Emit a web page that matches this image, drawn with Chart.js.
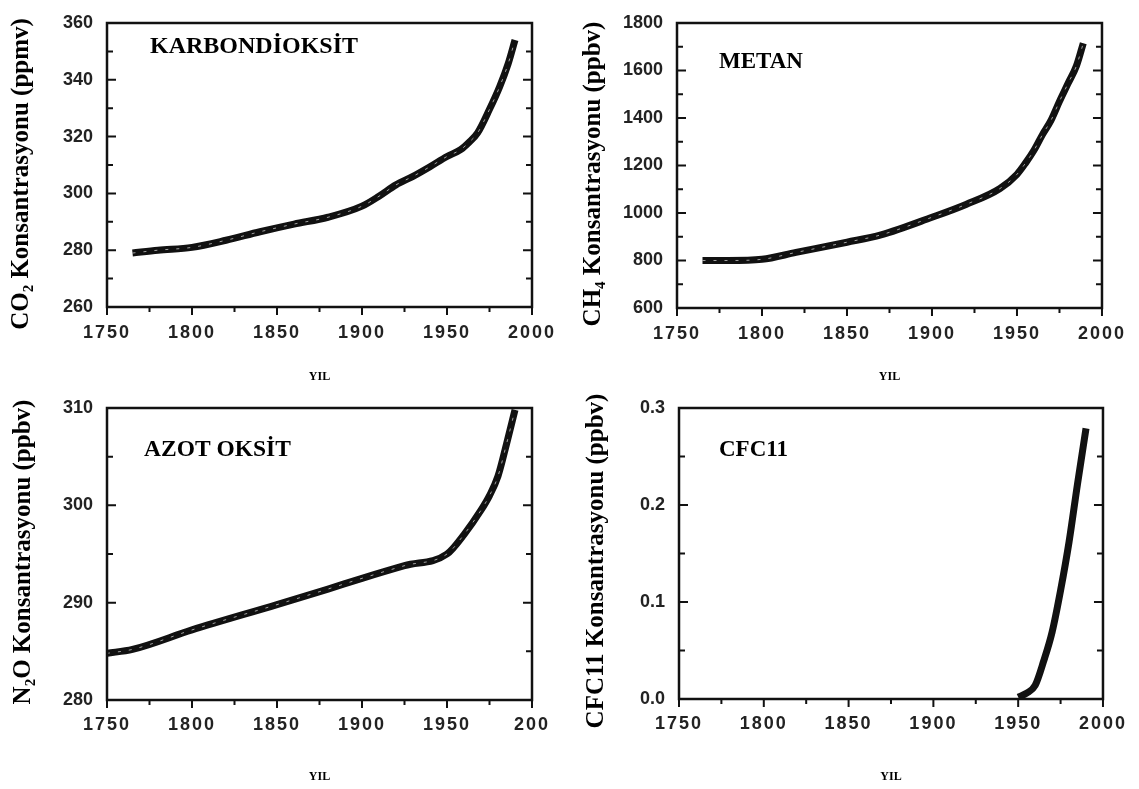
<!DOCTYPE html>
<html lang="tr">
<head>
<meta charset="utf-8">
<title>Sera gazları konsantrasyonu</title>
<script src="https://cdn.jsdelivr.net/npm/chart.js@4.4.0/dist/chart.umd.min.js"></script>
<style>
  body { margin: 0; background: #fff; }
  #wrap { position: relative; width: 1139px; height: 789px; }
  canvas { position: absolute; }
</style>
</head>
<body>
<div id="wrap">
  <canvas id="chart-co2" width="570" height="385" style="left:0;top:0"></canvas>
  <canvas id="chart-ch4" width="569" height="385" style="left:570px;top:0"></canvas>
  <canvas id="chart-n2o" width="570" height="404" style="left:0;top:385px"></canvas>
  <canvas id="chart-cfc" width="569" height="404" style="left:570px;top:385px"></canvas>
</div>
<script>
// values
const co2Years = [1765, 1780, 1800, 1820, 1840, 1860, 1880, 1900, 1910, 1920, 1930, 1940, 1950, 1958, 1963, 1968, 1975, 1981, 1986, 1990];
const co2Values = [279, 280, 281, 283.5, 286.5, 289.2, 291.6, 295.5, 299, 303, 306, 309.4, 313, 315.4, 318, 321.3, 329.6, 337.6, 345.7, 354];

const ch4Years = [1765, 1780, 1800, 1820, 1850, 1870, 1900, 1920, 1940, 1950, 1955, 1960, 1965, 1970, 1975, 1980, 1985, 1989];
const ch4Values = [800, 800, 805, 834, 877, 908, 982, 1036, 1103, 1163, 1210, 1264, 1330, 1390, 1470, 1545, 1620, 1715];

const n2oYears = [1750, 1765, 1800, 1850, 1880, 1900, 1925, 1950, 1960, 1970, 1975, 1980, 1985, 1990];
const n2oValues = [284.8, 285.2, 287.2, 289.8, 291.4, 292.5, 293.8, 295, 297, 299.5, 301, 303, 306.3, 309.8];

const cfcYears = [1950, 1955, 1960, 1965, 1970, 1975, 1980, 1985, 1990];
const cfcValues = [0.002, 0.006, 0.014, 0.039, 0.069, 0.112, 0.162, 0.222, 0.279];

const yearTicks = ['1750', '1800', '1850', '1900', '1950', '2000'];
const yearTicksN2O = ['1750', '1800', '1850', '1900', '1950', '200'];
const co2Ticks = ['260', '280', '300', '320', '340', '360'];
const ch4Ticks = ['600', '800', '1000', '1200', '1400', '1600', '1800'];
const n2oTicks = ['280', '290', '300', '310'];
const cfcTicks = ['0.0', '0.1', '0.2', '0.3'];

const INK = '#111';
const tickFont = { family: 'Liberation Sans', size: 18, weight: 'bold', lineHeight: 1 };

// box round the plot, with inward ticks left/right and outward ticks below
const frameTicks = {
  id: 'frameTicks',
  afterDatasetsDraw(chart, args, opts) {
    const { ctx, chartArea: a, scales: { x, y } } = chart;
    ctx.save();
    ctx.strokeStyle = INK;
    ctx.lineWidth = 2.5;
    ctx.strokeRect(a.left, a.top, a.right - a.left, a.bottom - a.top);
    ctx.lineWidth = 2;
    ctx.beginPath();
    const nx = Math.round((x.max - x.min) / opts.xStep);
    for (let i = 0; i <= nx; i++) {
      const px = x.getPixelForValue(x.min + i * opts.xStep);
      const len = i % 2 === 0 ? 8 : 5;
      ctx.moveTo(px, a.bottom);
      ctx.lineTo(px, a.bottom + len);
    }
    const ny = Math.round((y.max - y.min) / opts.yStep);
    for (let i = 0; i <= ny; i++) {
      const py = y.getPixelForValue(y.min + i * opts.yStep);
      const len = i % 2 === 0 ? 9 : 6;
      ctx.moveTo(a.left, py);
      ctx.lineTo(a.left + len, py);
      ctx.moveTo(a.right, py);
      ctx.lineTo(a.right - len, py);
    }
    ctx.stroke();
    ctx.restore();
  }
};

// the year labels in the scan are spaced out a little
const wideXLabels = {
  id: 'wideXLabels',
  afterLayout(chart) {
    const sc = chart.scales.x;
    if (sc._wide) return;
    const orig = sc.drawLabels;
    sc.drawLabels = function (area) {
      this.ctx.letterSpacing = '2px';
      orig.call(this, area);
      this.ctx.letterSpacing = '0px';
    };
    sc._wide = true;
  }
};

// gas name inside the plot and the rotated y title
const panelText = {
  id: 'panelText',
  afterDraw(chart, args, opts) {
    const ctx = chart.ctx;
    ctx.save();
    ctx.fillStyle = '#000';
    ctx.textBaseline = 'middle';
    ctx.font = 'bold ' + opts.nameSize + 'px "Liberation Serif"';
    ctx.fillText(opts.name, opts.nameX, opts.nameY);
    ctx.translate(opts.titleX, opts.titleY);
    ctx.rotate(-Math.PI / 2);
    ctx.textAlign = 'center';
    ctx.font = 'bold 25px "Liberation Serif"';
    ctx.fillText(opts.title, 0, 0);
    ctx.restore();
  }
};

function makeChart(id, p) {
  const pts = p.years.map((yr, i) => ({ x: yr, y: p.values[i] }));
  const datasets = [{
    data: pts,
    order: 2,
    borderColor: INK,
    borderWidth: 7,
    pointRadius: 0,
    cubicInterpolationMode: 'monotone',
    borderCapStyle: 'butt',
    borderJoinStyle: 'round'
  }];
  if (p.inner) {
    // thin broken white core seen inside the thick trace
    datasets.push({
      data: pts,
      order: 1,
      borderColor: 'rgba(255,255,255,0.6)',
      borderWidth: 1,
      borderDash: [3, 8],
      pointRadius: 0,
      cubicInterpolationMode: 'monotone'
    });
  }
  return new Chart(document.getElementById(id), {
    type: 'line',
    data: { datasets: datasets },
    options: {
      responsive: false,
      animation: false,
      events: [],
      layout: { padding: { top: p.top, right: p.right, bottom: 0, left: 0 } },
      plugins: {
        legend: { display: false },
        tooltip: { enabled: false },
        frameTicks: { xStep: 25, yStep: p.yStep / 2 },
        panelText: p.text
      },
      scales: {
        x: {
          type: 'linear',
          min: 1750,
          max: 2000,
          grid: { display: false, drawTicks: false },
          border: { display: false },
          ticks: {
            stepSize: 50,
            padding: p.xPad,
            color: '#222',
            font: tickFont,
            maxRotation: 0,
            autoSkip: false,
            callback: (v, i) => p.xLabels[i]
          },
          title: {
            display: true,
            text: 'YIL',
            color: '#000',
            font: { family: 'Liberation Serif', size: 12, weight: 'bold' },
            padding: { top: 0, bottom: p.yilPad }
          },
          afterFit: s => { s.height = p.xHeight; }
        },
        y: {
          type: 'linear',
          min: p.yMin,
          max: p.yMax,
          grid: { display: false, drawTicks: false },
          border: { display: false },
          ticks: {
            stepSize: p.yStep,
            padding: 14,
            color: '#222',
            font: tickFont,
            autoSkip: false,
            callback: (v, i) => p.yLabels[i]
          },
          afterFit: s => { s.width = p.yWidth; }
        }
      }
    },
    plugins: [frameTicks, wideXLabels, panelText]
  });
}

makeChart('chart-co2', {
  years: co2Years, values: co2Values, inner: true,
  yMin: 260, yMax: 360, yStep: 20, yLabels: co2Ticks, xLabels: yearTicks,
  top: 10, right: 38, yWidth: 107, xHeight: 78, xPad: 17, yilPad: 1,
  text: { name: 'KARBONDİOKSİT', nameSize: 24, nameX: 150, nameY: 47,
          title: 'CO₂ Konsantrasyonu (ppmv)', titleX: 22, titleY: 174 }
});

makeChart('chart-ch4', {
  years: ch4Years, values: ch4Values, inner: true,
  yMin: 600, yMax: 1800, yStep: 200, yLabels: ch4Ticks, xLabels: yearTicks,
  top: 10, right: 29, yWidth: 107, xHeight: 77, xPad: 17, yilPad: 1,
  text: { name: 'METAN', nameSize: 23, nameX: 149, nameY: 62,
          title: 'CH₄ Konsantrasyonu (ppbv)', titleX: 24, titleY: 174 }
});

makeChart('chart-n2o', {
  years: n2oYears, values: n2oValues, inner: true,
  yMin: 280, yMax: 310, yStep: 10, yLabels: n2oTicks, xLabels: yearTicksN2O,
  top: 15, right: 38, yWidth: 107, xHeight: 89, xPad: 16, yilPad: 5,
  text: { name: 'AZOT OKSİT', nameSize: 23.5, nameX: 144, nameY: 65,
          title: 'N₂O Konsantrasyonu (ppbv)', titleX: 24, titleY: 167 }
});

makeChart('chart-cfc', {
  years: cfcYears, values: cfcValues, inner: false,
  yMin: 0, yMax: 0.3, yStep: 0.1, yLabels: cfcTicks, xLabels: yearTicks,
  top: 14, right: 31, yWidth: 109, xHeight: 90, xPad: 16, yilPad: 5,
  text: { name: 'CFC11', nameSize: 23, nameX: 149, nameY: 65,
          title: 'CFC11 Konsantrasyonu (ppbv)', titleX: 27, titleY: 176 }
});
</script>
</body>
</html>
